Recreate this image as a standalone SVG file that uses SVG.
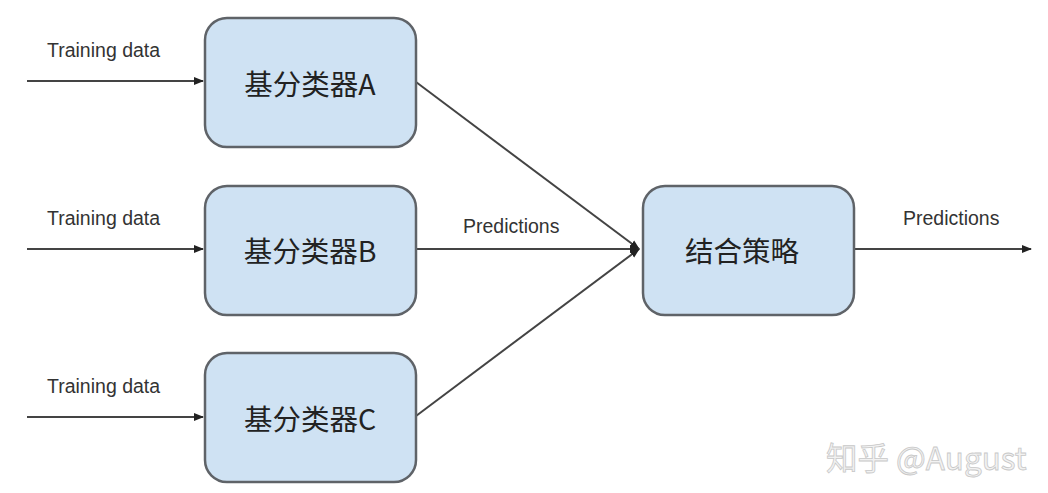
<svg xmlns="http://www.w3.org/2000/svg" width="1048" height="493" viewBox="0 0 1048 493">
<style>
.box{fill:#cfe2f3;stroke:#5f6368;stroke-width:2.5}
.lbl{font-family:"Noto Sans CJK SC","Liberation Sans",sans-serif;font-size:28.5px;fill:#222;text-anchor:middle;dominant-baseline:central}
.sm{font-family:"Liberation Sans",Arial,sans-serif;font-size:19.5px;fill:#333}
.ln{stroke:#444;stroke-width:2;fill:none}
.wm{font-family:"Noto Sans CJK SC","Liberation Sans",sans-serif;font-size:31.5px;fill:#f2f2f2;stroke:#c8c8c8;stroke-width:0.8}
</style>
<defs>
<marker id="ah" viewBox="0 0 10 10" refX="9" refY="5" markerWidth="5" markerHeight="5" orient="auto"><path d="M0,1 L10,5 L0,9 Z" fill="#222"/></marker>
</defs>
<rect width="1048" height="493" fill="#fff"/>
<g id="connectors">
<line class="ln" x1="27" y1="81" x2="203" y2="81" marker-end="url(#ah)"/>
<line class="ln" x1="27" y1="249" x2="203" y2="249" marker-end="url(#ah)"/>
<line class="ln" x1="27" y1="417" x2="203" y2="417" marker-end="url(#ah)"/>
<line class="ln" x1="416" y1="82" x2="639" y2="249" marker-end="url(#ah)"/>
<line class="ln" x1="416" y1="249" x2="639" y2="249" marker-end="url(#ah)"/>
<line class="ln" x1="416" y1="416" x2="639" y2="249" marker-end="url(#ah)"/>
<line class="ln" x1="855" y1="249" x2="1031" y2="249" marker-end="url(#ah)"/>
<text class="sm" x="47" y="57">Training data</text>
<text class="sm" x="47" y="225">Training data</text>
<text class="sm" x="47" y="393">Training data</text>
<text class="sm" x="463" y="233">Predictions</text>
<text class="sm" x="903" y="225">Predictions</text>
</g>
<g id="nodeA"><rect class="box" x="205" y="18" width="211" height="129" rx="22"/><text class="lbl" x="310" y="82">基分类器A</text></g>
<g id="nodeB"><rect class="box" x="205" y="186" width="211" height="129" rx="22"/><text class="lbl" x="310" y="249">基分类器B</text></g>
<g id="nodeC"><rect class="box" x="205" y="353" width="211" height="129" rx="22"/><text class="lbl" x="310" y="417">基分类器C</text></g>
<g id="nodeD"><rect class="box" x="643" y="186" width="211" height="129" rx="22"/><text class="lbl" x="742" y="249">结合策略</text></g>
<text class="wm" x="826" y="470">知乎 @August</text>
</svg>
